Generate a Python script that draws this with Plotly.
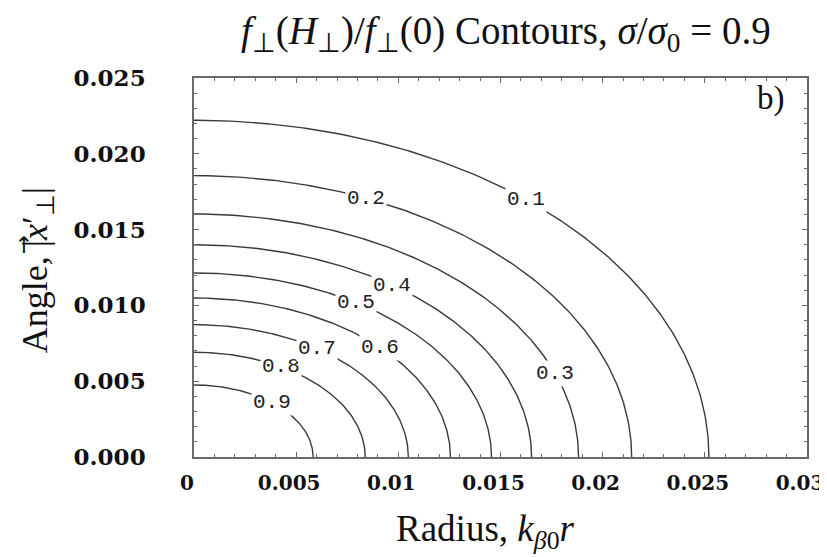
import numpy as np
import plotly.graph_objects as go

# ---- data ----
levels = [0.9, 0.8, 0.7, 0.6, 0.5, 0.4, 0.3, 0.2, 0.1]
level_text = ["0.9", "0.8", "0.7", "0.6", "0.5", "0.4", "0.3", "0.2", "0.1"]
# where each contour meets the radius axis (angle = 0)
x_intercepts = [0.00583, 0.00838, 0.01049, 0.01255, 0.01456, 0.01652, 0.01882, 0.02142, 0.02520]
# where each contour meets the angle axis (radius = 0)
y_intercepts = [0.00475, 0.00691, 0.00873, 0.01049, 0.01214, 0.01400, 0.01603, 0.01856, 0.02221]

x_tickvals = [0, 0.005, 0.01, 0.015, 0.02, 0.025, 0.03]
x_ticktext = ["0", "0.005", "0.01", "0.015", "0.02", "0.025", "0.03"]
y_tickvals = [0, 0.005, 0.01, 0.015, 0.02, 0.025]
y_ticktext = ["0.000", "0.005", "0.010", "0.015", "0.020", "0.025"]

# label placement along each curve (parametric angle, degrees) - styling only
label_angle_deg = [49.2, 59.4, 55.1, 43.6, 57.1, 54.1, 20.2, 66.9, 49.9]

fig = go.Figure()
t = np.linspace(0, np.pi / 2, 200)
for lv, a, b in zip(levels, x_intercepts, y_intercepts):
    fig.add_trace(go.Scatter(x=a * np.cos(t), y=b * np.sin(t), mode="lines",
                             line=dict(color="#3a3a3a", width=1.4),
                             hoverinfo="skip", showlegend=False))

for txt, a, b, ang in zip(level_text, x_intercepts, y_intercepts, label_angle_deg):
    th = np.deg2rad(ang)
    fig.add_annotation(x=a * np.cos(th), y=b * np.sin(th), text=txt, showarrow=False,
                       font=dict(family="Liberation Mono", size=21, color="#222"),
                       bgcolor="white", borderpad=1, xref="x", yref="y")

serif = "Liberation Serif"
fig.add_annotation(xref="paper", yref="paper", x=0.509, y=1.117, showarrow=False,
                   text="<i>f</i><sub>⊥</sub>(<i>H</i><sub>⊥</sub>)/<i>f</i><sub>⊥</sub>(0) Contours, "
                        "<i>σ</i>/<i>σ</i><sub>0</sub> = 0.9",
                   font=dict(family=serif, size=39, color="#111"),
                   xanchor="center", yanchor="middle")
fig.add_annotation(xref="paper", yref="paper", x=0.476, y=-0.197, showarrow=False,
                   text="Radius, <i>k</i><sub><i>β</i>0</sub><i>r</i>",
                   font=dict(family=serif, size=37, color="#111"),
                   xanchor="center", yanchor="middle")
fig.add_annotation(xref="paper", yref="paper", x=-0.256, y=0.493, showarrow=False,
                   text="Angle, |<i>x</i>′<sub>⊥</sub>|", textangle=-90,
                   font=dict(family=serif, size=36, color="#111"), xanchor="center", yanchor="middle")
# vector arrow over the x of the angle label
fig.add_annotation(xref="paper", yref="paper", x=-0.279, y=0.561, showarrow=False,
                   text="→", textangle=-90,
                   font=dict(family="DejaVu Sans", size=23, color="#111"), xanchor="center", yanchor="middle")
fig.add_annotation(xref="paper", yref="paper", x=0.942, y=0.947, showarrow=False,
                   text="b)", font=dict(family=serif, size=33, color="#111"),
                   xanchor="center", yanchor="middle")

axis_common = dict(showgrid=False, zeroline=False, showline=True, linecolor="#6a6a6a",
                   linewidth=1.5, mirror="ticks", ticks="inside", ticklen=5,
                   tickcolor="#6a6a6a", tickwidth=1,
                   minor=dict(ticks="inside", ticklen=3, dtick=0.001, tickcolor="#6a6a6a"))
fig.update_xaxes(range=[0, 0.03], tickvals=x_tickvals, ticktext=x_ticktext,
                 ticklabelstandoff=7, ticklabelshift=-7,
                 tickfont=dict(family="DejaVu Serif", size=20, color="#111", weight="bold"),
                 **axis_common)
fig.update_yaxes(range=[0, 0.025], tickvals=y_tickvals, ticktext=y_ticktext,
                 ticklabelstandoff=42,
                 tickfont=dict(family="DejaVu Serif", size=23, color="#111", weight="bold"),
                 **axis_common)
fig.update_layout(width=827, height=557, margin=dict(l=186, r=28, t=70, b=108),
                  plot_bgcolor="white", paper_bgcolor="white")
fig.write_html("out.html")
